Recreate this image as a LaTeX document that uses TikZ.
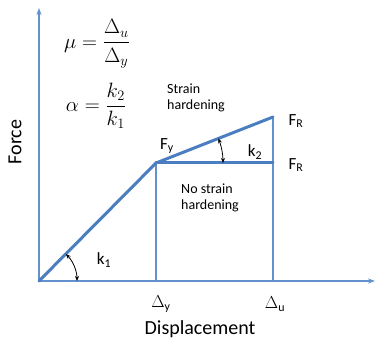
\documentclass[tikz,border=0pt]{standalone}
\usepackage{fontspec}
\setmainfont{Carlito}
\usepackage{amsmath}
\usetikzlibrary{arrows.meta}
\definecolor{thk}{RGB}{74,126,193}
\definecolor{thn}{RGB}{100,145,205}
\begin{document}
\begin{tikzpicture}[x=1pt,y=-1pt,
  axis/.style={thn,line width=1.3pt,-{Stealth[length=7pt,width=5pt]}},
  guide/.style={thn,line width=1.3pt},
  curve/.style={thk,line width=3pt,line cap=round,line join=round},
  arc2/.style={black,line width=0.8pt,{Stealth[length=5pt,width=4pt]}-{Stealth[length=5pt,width=4pt]}},
  lbl/.style={font=\fontsize{17}{17}\selectfont,inner sep=0pt},
  small/.style={font=\fontsize{14}{16.5}\selectfont,align=left,inner sep=0pt},
  big/.style={font=\fontsize{20}{20}\selectfont,inner sep=0pt},
  formula/.style={inner sep=0pt,font=\fontsize{21}{24}\selectfont}]
\useasboundingbox (0,0) rectangle (376,342);
\coordinate (O) at (39,281);
\coordinate (ytop) at (39,8);
\coordinate (xend) at (375,281);
\coordinate (Y) at (156,163);
\coordinate (Ru) at (273,117);
\coordinate (Rl) at (273,163);
\coordinate (Dy) at (156,281);
\coordinate (Du) at (273,281);
\draw[axis] (O) -- (ytop);
\draw[axis] (O) -- (xend);
\draw[guide] (Y) -- (Dy);
\draw[guide] (Ru) -- (Du);
\draw[curve] (O) -- (Y) -- (Ru);
\draw[curve] (Y) -- (Rl);
\draw[arc2] ([shift={(0:38)}]O) arc[start angle=0,end angle=-45,radius=38];
\draw[arc2] ([shift={(0:67)}]Y) arc[start angle=0,end angle=-21.5,radius=67];
\node[lbl] (k1) at (104,260) {k\textsubscript{1}};
\node[lbl] (k2) at (255,152) {k\textsubscript{2}};
\node[lbl] (Fy) at (167,146) {F\textsubscript{y}};
\node[lbl] (FR1) at (296,121) {F\textsubscript{R}};
\node[lbl] (FR2) at (296,165) {F\textsubscript{R}};
\node[lbl] (dy) at (161,304) {$\Delta$\textsubscript{y}};
\node[lbl] (du) at (275,304) {$\Delta$\textsubscript{u}};
\node[big] (disp) at (200,329) {Displacement};
\node[big,rotate=90] (force) at (15,142) {Force};
\node[small] (sh) at (196,98) {Strain\\hardening};
\node[small] (nsh) at (210,198) {No strain\\hardening};
\node[formula] (mu) at (97,44) {$\displaystyle\mu=\frac{\Delta_u}{\Delta_y}$};
\node[formula] (al) at (96,106) {$\displaystyle\alpha=\frac{k_2}{k_1}$};
\end{tikzpicture}
\end{document}
